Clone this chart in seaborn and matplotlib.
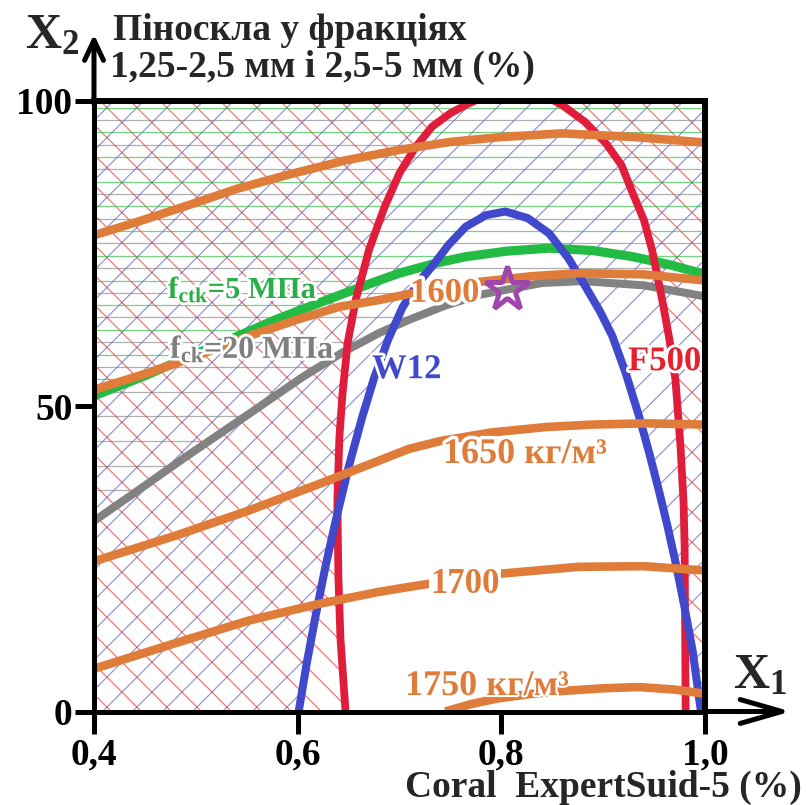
import numpy as np
import matplotlib
matplotlib.use("Agg")
import matplotlib.pyplot as plt
import matplotlib.patheffects as pe
from matplotlib.patches import Polygon
from matplotlib.collections import LineCollection
import seaborn as sns

# ---------------- data ----------------
x_ticks = [0.4, 0.6, 0.8, 1.0]
x_tick_labels = ["0,4", "0,6", "0,8", "1,0"]
y_ticks = [0, 50, 100]
y_tick_labels = ["0", "50", "100"]

# F500 frost-resistance boundary (closed curve, clipped at top)
f500_x = [0.647, 0.642, 0.640, 0.639, 0.641, 0.644, 0.649, 0.657, 0.670, 0.685, 0.700, 0.716, 0.732,
          0.750, 0.768, 0.790, 0.815, 0.838, 0.860, 0.882, 0.903, 0.918, 0.929, 0.940, 0.948, 0.958,
          0.965, 0.971, 0.976, 0.979, 0.980, 0.981]
f500_y = [0.0, 12.0, 22.0, 34.6, 45.0, 52.0, 60.3, 67.4, 75.6, 82.5, 88.2, 92.5, 95.8,
          98.0, 99.6, 101.2, 101.8, 101.3, 99.3, 96.6, 93.0, 89.5, 84.9, 80.5, 75.6, 67.4,
          61.0, 54.3, 43.3, 34.0, 26.9, 0.0]

# W12 water-resistance boundary
w12_x = [0.601, 0.609, 0.618, 0.627, 0.637, 0.650, 0.663, 0.675, 0.689, 0.703, 0.717, 0.732, 0.748,
         0.765, 0.785, 0.804, 0.826, 0.847, 0.866, 0.883, 0.897, 0.909, 0.922, 0.935, 0.945, 0.955,
         0.963, 0.971, 0.980, 0.988, 0.996]
w12_y = [0.0, 8.0, 16.0, 23.5, 31.0, 40.0, 48.0, 54.6, 61.0, 66.2, 69.9, 72.9, 76.4,
         79.4, 81.3, 81.9, 80.8, 78.3, 74.2, 69.5, 65.5, 61.5, 55.5, 48.5, 42.5, 36.0,
         30.5, 24.5, 17.0, 9.8, 0.0]

# f_ctk = 5 MPa
fctk_x = [0.40, 0.45, 0.493, 0.54, 0.58, 0.63, 0.673, 0.70, 0.735, 0.765, 0.805, 0.847, 0.89, 0.929, 0.965, 1.00]
fctk_y = [51.7, 55.0, 58.1, 61.4, 64.3, 67.5, 70.2, 71.8, 73.4, 74.5, 75.4, 75.9, 75.5, 74.5, 73.2, 71.6]

# f_ck = 20 MPa
fck_x = [0.40, 0.45, 0.49, 0.55, 0.605, 0.645, 0.68, 0.71, 0.745, 0.78, 0.84, 0.88, 0.94, 1.00]
fck_y = [31.2, 37.0, 41.7, 48.5, 54.8, 58.9, 62.0, 64.2, 66.5, 68.3, 70.2, 70.5, 69.8, 68.0]

# density isolines
rho1550_x = [0.40, 0.45, 0.494, 0.54, 0.59, 0.645, 0.70, 0.75, 0.80, 0.86, 0.93, 1.00]
rho1550_y = [78.0, 80.6, 83.0, 85.6, 87.9, 90.2, 92.0, 93.3, 94.1, 94.7, 94.1, 93.2]

rho1600_x = [0.40, 0.45, 0.494, 0.559, 0.60, 0.641, 0.68, 0.73, 0.78, 0.83, 0.876, 0.94, 1.00]
rho1600_y = [52.7, 55.3, 57.8, 61.9, 64.2, 66.3, 67.4, 69.1, 70.4, 71.3, 71.8, 71.6, 70.6]

rho1650_x = [0.40, 0.48, 0.55, 0.62, 0.68, 0.709, 0.74, 0.79, 0.844, 0.89, 0.942, 1.00]
rho1650_y = [24.6, 28.8, 32.8, 37.2, 41.1, 43.0, 44.3, 45.7, 46.6, 47.0, 47.2, 47.0]

rho1700_x = [0.40, 0.48, 0.552, 0.62, 0.68, 0.709, 0.76, 0.801, 0.876, 0.94, 1.00]
rho1700_y = [7.0, 11.2, 14.9, 17.6, 19.6, 20.4, 21.7, 22.6, 23.7, 23.8, 23.1]

rho1750_x = [0.745, 0.77, 0.795, 0.83, 0.863, 0.90, 0.935, 0.97, 1.00]
rho1750_y = [0.0, 1.2, 2.1, 2.9, 3.4, 3.8, 4.0, 3.6, 2.9]

optimum_x = [0.806]
optimum_y = [69.2]

# ---------------- style ----------------
sns.set_theme(style="white")
plt.rcParams["font.family"] = ["Liberation Serif", "DejaVu Serif"]
plt.rcParams["font.weight"] = "bold"
plt.rcParams["mathtext.fontset"] = "custom"
plt.rcParams["mathtext.rm"] = "Liberation Serif:bold"
plt.rcParams["mathtext.bf"] = "Liberation Serif:bold"
plt.rcParams["mathtext.it"] = "Liberation Serif:bold"

ORANGE = "#e07c3a"
GREEN = "#22bb44"
GRAY = "#828282"
BLUE = "#4048cc"
RED = "#e01e3c"
PURPLE = "#a046aa"

W, H = 806, 805
fig = plt.figure(figsize=(W / 100, H / 100), dpi=100)
L, R, B, T = 94, 705, 711.5, 101
ax = fig.add_axes([L / W, 1 - B / H, (R - L) / W, (B - T) / H])
ax.set_xlim(0.4, 1.0)
ax.set_ylim(0, 100)


# ---------------- hatched regions ----------------
def outside_patch(xs, ys):
    vx = [0.38, xs[0]] + list(xs) + [xs[-1], 1.02, 1.02, 0.38]
    vy = [-3, -3] + list(ys) + [-3, -3, 112, 112]
    p = Polygon(np.column_stack([vx, vy]), closed=True, facecolor="none",
                edgecolor="none", transform=ax.transData)
    ax.add_patch(p)
    return p


def above_patch(xs, ys):
    vx = [0.38] + list(xs) + [1.02, 1.02, 0.38]
    vy = [ys[0]] + list(ys) + [ys[-1], 112, 112]
    p = Polygon(np.column_stack([vx, vy]), closed=True, facecolor="none",
                edgecolor="none", transform=ax.transData)
    ax.add_patch(p)
    return p


step = 30 / 611.0


def diag(c0, kind, color, alpha, clip):
    cs = c0 + step * np.arange(-60, 60)
    segs = []
    for c in cs:
        if kind == "back":      # "\"  x + y = c
            if -0.2 < c < 2.2:
                segs.append([(-0.1, c + 0.1), (1.1, c - 1.1)])
        else:                   # "/"  y - x = c
            if -1.2 < c < 1.2:
                segs.append([(-0.1, c - 0.1), (1.1, c + 1.1)])
    lc = LineCollection(segs, colors=color, linewidths=0.8, alpha=alpha,
                        transform=ax.transAxes, zorder=1)
    ax.add_collection(lc, autolim=False)
    lc.set_clip_path(clip)
    lc.set_clip_box(ax.bbox)


red_clip = outside_patch(f500_x, f500_y)
blue_clip = outside_patch(w12_x, w12_y)
green_clip = above_patch(fctk_x, fctk_y)
gray_clip = above_patch(fck_x, fck_y)

diag(1.0103, "back", "#ee2a2a", 0.7, red_clip)
diag(0.968, "fwd", "#3a3ad0", 0.6, blue_clip)

green_levels = 98.9 - 4.044 * np.arange(0, 26)
gray_levels = 96.9 - 4.044 * np.arange(0, 26)
hg = ax.hlines(green_levels, 0.38, 1.02, colors="#2cbb40", linewidths=0.9, alpha=0.65, zorder=1)
hg.set_clip_path(green_clip)
hg.set_clip_box(ax.bbox)
hk = ax.hlines(gray_levels, 0.38, 1.02, colors="#7a7a7a", linewidths=0.9, alpha=0.6, zorder=1)
hk.set_clip_path(gray_clip)
hk.set_clip_box(ax.bbox)

# ---------------- curves ----------------
def curve(xs, ys, color, lw, z):
    sns.lineplot(x=xs, y=ys, sort=False, estimator=None, color=color, lw=lw,
                 ax=ax, zorder=z, solid_capstyle="butt", solid_joinstyle="round")


curve(fctk_x, fctk_y, GREEN, 6.6, 2)
curve(fck_x, fck_y, GRAY, 5.8, 2)
curve(f500_x, f500_y, RED, 5.6, 3)
curve(w12_x, w12_y, BLUE, 5.8, 3)
for xs, ys in [(rho1550_x, rho1550_y), (rho1600_x, rho1600_y), (rho1650_x, rho1650_y),
               (rho1700_x, rho1700_y), (rho1750_x, rho1750_y)]:
    curve(xs, ys, ORANGE, 6.2, 4)

ax.plot(optimum_x, optimum_y, ls="none", marker="*", ms=33, mfc="none", mec=PURPLE,
        mew=3.6, zorder=7)

# ---------------- labels inside plot ----------------
halo = [pe.withStroke(linewidth=4, foreground="white")]
ax.text(0.4727, 67.7, r"$\mathbf{f}_{\mathbf{ctk}}$=5 МПа", color="#2aae48", fontsize=22,
        ha="left", va="baseline", zorder=6, path_effects=halo)
ax.text(0.4746, 57.9, r"$\mathbf{f}_{\mathbf{ck}}$=20 МПа", color="#7f7f7f", fontsize=23,
        ha="left", va="baseline", zorder=6, path_effects=halo)
ax.text(0.673, 54.6, "W12", color=BLUE, fontsize=25, ha="left", va="baseline", zorder=6,
        path_effects=halo)
ax.text(0.9244, 55.9, "F500", color="#e8202e", fontsize=25, ha="left", va="baseline", zorder=6,
        path_effects=halo)
ax.text(0.7103, 67.1, "1600", color=ORANGE, fontsize=25, ha="left", va="baseline", zorder=6,
        path_effects=[pe.withStroke(linewidth=5, foreground="white")])
ax.text(0.7427, 40.7, "1650 кг/м³", color=ORANGE, fontsize=26, ha="left", va="baseline", zorder=6,
        path_effects=[pe.withStroke(linewidth=5, foreground="white")])
ax.text(0.730, 19.4, "1700", color=ORANGE, fontsize=25, ha="left", va="baseline", zorder=6,
        bbox=dict(facecolor="white", edgecolor="none", pad=1))
ax.text(0.7054, 2.7, "1750 кг/м³", color=ORANGE, fontsize=26, ha="left", va="baseline", zorder=6,
        path_effects=[pe.withStroke(linewidth=3, foreground="white")])

# ---------------- axes, ticks, arrows ----------------
for s in ["left", "bottom"]:
    ax.spines[s].set_linewidth(3.6)
    ax.spines[s].set_color("black")
    ax.spines[s].set_zorder(8)
for s in ["top", "right"]:
    ax.spines[s].set_linewidth(4.3)
    ax.spines[s].set_color("black")
    ax.spines[s].set_zorder(8)

ax.set_xticks(x_ticks)
ax.set_xticklabels(x_tick_labels)
ax.set_yticks(y_ticks)
ax.set_yticklabels(y_tick_labels)
ax.tick_params(axis="x", direction="out", length=15.5, width=3.6, pad=3, labelsize=27,
               colors="black", bottom=True)
ax.tick_params(axis="y", direction="out", length=13.5, width=3.6, pad=2, labelsize=27,
               colors="black", left=True)
for lab in ax.get_xticklabels() + ax.get_yticklabels():
    lab.set_fontweight("bold")

ax.annotate("", xy=(0.4, 110.9), xytext=(0.4, 99.5), xycoords="data", annotation_clip=False,
            arrowprops=dict(arrowstyle="->,head_length=0.72,head_width=0.34", lw=3.6,
                            color="black", shrinkA=0, shrinkB=0, mutation_scale=20))
ax.annotate("", xy=(1.0844, 0), xytext=(0.999, 0), xycoords="data", annotation_clip=False,
            arrowprops=dict(arrowstyle="->,head_length=1.5,head_width=0.43", lw=3.6,
                            color="black", shrinkA=0, shrinkB=0, mutation_scale=20))

# ---------------- outer texts ----------------
fig.text(25 / W, 1 - 48 / H, r"$\mathbf{X}_{\mathbf{2}}$", fontsize=36, ha="left", va="baseline")
fig.text(733 / W, 1 - 688 / H, r"$\mathbf{X}_{\mathbf{1}}$", fontsize=36, ha="left", va="baseline")
fig.text(113 / W, 1 - 40 / H, "Піноскла у фракціях", fontsize=27, ha="left", va="baseline")
fig.text(110 / W, 1 - 77 / H, "1,25-2,5 мм і 2,5-5 мм (%)", fontsize=27, ha="left", va="baseline")
fig.text(405 / W, 1 - 797 / H, "Coral  ExpertSuid-5 (%)", fontsize=27, ha="left", va="baseline")

fig.savefig("out.png", dpi=100, facecolor="white")
